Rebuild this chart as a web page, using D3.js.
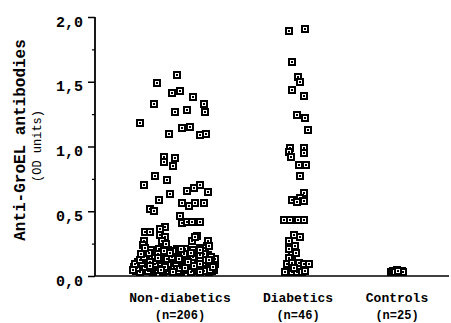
<!DOCTYPE html>
<html>
<head>
<meta charset="utf-8">
<script src="https://cdn.jsdelivr.net/npm/d3@7"></script>
<style>
  html, body { margin: 0; padding: 0; background: #fff; }
  svg { display: block; }
  text { font-family: "Courier New", "Liberation Mono", Cousine, Courier, "Nimbus Mono PS", FreeMono, monospace; font-weight: bold; fill: #000; }
</style>
</head>
<body>
<svg id="chart" width="451" height="323"></svg>
<script>
// ---------- DATA ----------
const categories = ["Non-diabetics", "Diabetics", "Controls"];
const groupSizes = ["(n=206)", "(n=46)", "(n=25)"];
const yTickLabels = ["0,0", "0,5", "1,0", "1,5", "2,0"];
const yTickValues = [0, 0.5, 1.0, 1.5, 2.0];

// Non-diabetics: OD values and horizontal jitter (-1..1 of the group spread)
const nonDiabValues = [
  1.55,1.49,1.41,1.43,1.38,1.33,1.33,1.27,1.27,1.28,1.18,1.14,1.15,1.10,1.09,1.10,
  0.92,0.88,0.91,0.85,0.77,0.74,0.70,0.70,0.68,0.66,0.65,0.63,0.59,0.56,0.56,0.56,
  0.54,0.52,0.50,0.46,0.41,0.42,0.42,0.42,0.38,0.36,0.34,0.34,0.32,0.30,0.27,0.27,
  0.31,0.27,0.27,0.22,0.25,0.24,0.20,0.21,0.30,0.23,
  0.04,0.05,0.03,0.06,0.04,0.05,0.03,0.06,0.04,0.05,0.03,0.05,
  0.07,0.08,0.09,0.07,0.08,0.09,0.07,0.08,0.09,0.07,0.08,0.09,
  0.11,0.10,0.12,0.11,0.10,0.12,0.11,0.10,0.12,0.11,0.10,0.12,
  0.14,0.13,0.15,0.14,0.13,0.15,0.14,0.13,0.15,0.14,0.13,
  0.16,0.17,0.18,0.16,0.17,0.18,0.16,0.17,0.19,0.16,
  0.20,0.21,0.20,0.19,0.21,0.20,0.22,
  0.03,0.04,0.05,0.03,0.06,0.04,0.05,0.03,0.04,0.06,0.04,
  0.06,0.07,0.06,0.08,0.06,0.07,0.06,0.08,0.06,0.07,0.06,
  0.09,0.10,0.09,0.10,0.09,0.10,0.09,0.10,0.09,0.10,0.09,
  0.12,0.13,0.12,0.13,0.12,0.13,0.12,0.13,0.12,0.13,
  0.15,0.14,0.15,0.15,0.14,0.15,0.15,0.14,0.15,
  0.18,0.17,0.18,0.17,0.18,0.18,0.17,
  0.05,0.03,0.04,0.07,0.08,0.05,0.11,0.11,0.10,0.14,0.16,0.13,0.19,0.21,0.22,0.23,
  0.08,0.03,0.07,0.12,0.17,0.20,0.05,0.09,0.06
];
const nonDiabJitter = [
  -0.07,-0.47,-0.17,0.00,0.25,-0.53,0.47,0.50,-0.10,0.13,-0.80,0.03,0.20,-0.23,0.40,0.52,
  -0.33,-0.33,-0.10,-0.15,-0.50,-0.27,-0.73,0.40,0.27,0.13,0.55,-0.20,-0.43,0.03,0.30,0.47,
  0.17,-0.60,-0.52,0.00,0.03,0.13,0.23,0.39,-0.30,-0.40,-0.70,-0.60,-0.40,-0.30,-0.73,-0.37,
  0.33,0.55,0.23,0.40,-0.28,-0.74,-0.24,-0.07,0.30,0.53,
  -0.88,-0.72,-0.55,-0.41,-0.28,-0.12,0.02,0.15,0.30,0.44,0.58,0.68,
  -0.93,-0.80,-0.64,-0.50,-0.35,-0.20,-0.06,0.08,0.22,0.36,0.50,0.63,
  -0.85,-0.70,-0.57,-0.44,-0.30,-0.16,-0.02,0.12,0.27,0.40,0.55,0.66,
  -0.77,-0.62,-0.48,-0.33,-0.22,-0.08,0.06,0.19,0.33,0.47,0.60,
  -0.68,-0.52,-0.38,-0.25,-0.10,0.04,0.18,0.30,0.44,0.56,
  -0.58,-0.43,-0.28,-0.15,0.10,0.25,0.50,
  -0.80,-0.64,-0.48,-0.35,-0.20,-0.05,0.08,0.22,0.37,0.52,0.63,
  -0.86,-0.70,-0.57,-0.43,-0.27,-0.13,0.00,0.14,0.29,0.43,0.57,
  -0.90,-0.76,-0.50,-0.38,-0.25,-0.09,0.05,0.18,0.33,0.46,0.69,
  -0.80,-0.67,-0.40,-0.27,-0.04,0.12,0.24,0.36,0.52,0.70,
  -0.72,-0.56,-0.40,-0.16,0.00,0.12,0.26,0.40,0.62,
  -0.62,-0.45,-0.20,0.08,0.22,0.36,0.48,
  -0.95,-0.15,0.48,-0.30,0.28,0.60,-0.60,0.16,0.62,-0.44,0.40,-0.02,-0.32,0.02,-0.70,0.58,
  -0.60,0.40,0.65,0.58,-0.78,0.40,-0.38,0.40,0.10
];

// Diabetics
const diabValues = [
  1.89,1.91,1.65,1.54,1.50,1.44,1.39,1.24,1.22,1.13,0.99,0.99,0.96,0.92,0.95,0.86,
  0.86,0.77,0.64,0.60,0.59,0.57,0.58,0.43,0.43,0.43,0.43,0.32,0.30,0.27,0.23,0.21,
  0.16,0.14,0.09,0.10,0.10,0.09,0.09,0.03,0.03,0.03,0.03,0.04,0.06,0.18
];
const diabJitter = [
  -0.19,0.14,-0.13,-0.01,0.04,-0.13,0.11,-0.03,0.14,0.19,-0.16,0.11,-0.19,-0.15,0.11,0.01,
  0.16,0.04,0.12,0.04,-0.13,-0.03,0.11,-0.29,-0.16,-0.01,0.11,-0.09,0.03,-0.19,-0.06,-0.19,
  -0.13,-0.19,-0.23,-0.13,0.01,0.11,0.21,-0.26,-0.13,-0.03,0.07,0.14,-0.08,-0.04
];

// Controls
const ctrlValues = [
  0.03,0.03,0.04,0.03,0.03,0.04,0.04,0.03,0.03,0.04,0.03,0.04,0.03,
  0.03,0.04,0.03,0.03,0.04,0.05,0.03,0.03,0.04,0.03,0.03,0.04
];
const ctrlJitter = [
  -0.10,-0.06,-0.02,0.02,0.06,0.10,-0.04,0.00,-0.08,0.04,0.08,0.02,-0.12,
  0.12,-0.06,0.03,-0.03,0.07,-0.01,0.05,0.09,-0.09,0.11,-0.05,0.01
];

// ---------- CHART ----------
const FONT = '"Courier New", "Liberation Mono", Cousine, Courier, "Nimbus Mono PS", FreeMono, monospace';
const svg = d3.select("#chart");
const axisX = 95, yBottom = 276, yTop = 17, xRight = 449;

const y = d3.scaleLinear().domain([0, 2]).range([yBottom, yTop]);
const xCat = d3.scaleOrdinal().domain(categories).range([180, 298, 397]);
const jit = d3.scaleLinear().domain([-1, 1]).range([-50, 50]);

const groups = [
  { cat: categories[0], values: nonDiabValues, jitter: nonDiabJitter },
  { cat: categories[1], values: diabValues, jitter: diabJitter },
  { cat: categories[2], values: ctrlValues, jitter: ctrlJitter }
];
const points = [];
groups.forEach(g => g.values.forEach((v, i) => points.push({ cat: g.cat, v, j: g.jitter[i] })));

// Y axis
const yAxis = d3.axisLeft(y).tickValues(yTickValues).tickSize(7)
  .tickFormat((d, i) => yTickLabels[i]);
const ga = svg.append("g").attr("transform", `translate(${axisX},0)`).call(yAxis);
ga.attr("font-family", null);
ga.select(".domain").remove();
ga.selectAll(".tick line").attr("stroke", "#000").attr("stroke-width", 1.5);
ga.selectAll(".tick text")
  .attr("x", -12).attr("dy", null).attr("y", 9)
  .style("font-family", FONT)
  .style("font-weight", "bold").style("font-size", "15px");

// minor ticks
const minorAxis = d3.axisLeft(y).tickValues([0.25, 0.75, 1.25, 1.75]).tickSize(3).tickFormat("");
const gm = svg.append("g").attr("transform", `translate(${axisX},0)`).call(minorAxis);
gm.select(".domain").remove();
gm.selectAll(".tick line").attr("stroke", "#000").attr("stroke-width", 1.2);

// axis lines
svg.append("line").attr("x1", axisX).attr("x2", axisX).attr("y1", y(2)).attr("y2", y(0))
  .attr("stroke", "#000").attr("stroke-width", 1.8);
svg.append("line").attr("x1", axisX).attr("x2", xRight).attr("y1", y(0)).attr("y2", y(0))
  .attr("stroke", "#000").attr("stroke-width", 1.6);

// Y title
svg.append("text").attr("transform", "translate(25,140) rotate(-90)")
  .attr("text-anchor", "middle").style("font-size", "16px")
  .text("Anti-GroEL antibodies");
svg.append("text").attr("transform", "translate(41,146) rotate(-90)")
  .attr("text-anchor", "middle").style("font-size", "12px").style("font-weight", "normal")
  .text("(OD units)");

// category labels
svg.selectAll("text.cat").data(categories).join("text").attr("class", "cat")
  .attr("x", d => xCat(d)).attr("y", 302).attr("text-anchor", "middle")
  .style("font-size", "13px").text(d => d);
svg.selectAll("text.n").data(groupSizes).join("text").attr("class", "n")
  .attr("x", (d, i) => xCat(categories[i])).attr("y", 319).attr("text-anchor", "middle")
  .style("font-size", "12px").text(d => d);

// markers (crisp 8px squares with a small open centre)
const mk = svg.append("g").selectAll("g").data(points).join("g")
  .attr("transform", d => `translate(${Math.round(xCat(d.cat) + jit(d.j))},${Math.round(y(d.v))})`);
mk.append("rect").attr("x", -4).attr("y", -4).attr("width", 8).attr("height", 8)
  .attr("fill", "#000");
mk.append("rect").attr("x", -2).attr("y", -2).attr("width", 4).attr("height", 4)
  .attr("fill", "#fff");
mk.append("rect").attr("x", -1).attr("y", -1).attr("width", 2).attr("height", 2)
  .attr("fill", "#000");
</script>
</body>
</html>
